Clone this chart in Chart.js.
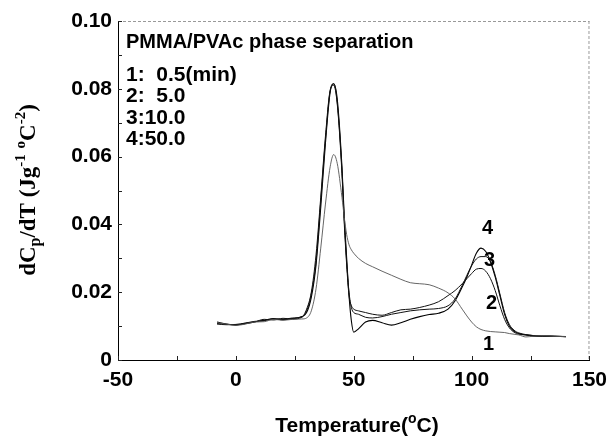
<!DOCTYPE html>
<html>
<head>
<meta charset="utf-8">
<script src="https://cdn.jsdelivr.net/npm/chart.js@4.4.1/dist/chart.umd.min.js"></script>
<style>
  html, body { margin: 0; padding: 0; background: #fff; }
  #wrap { width: 615px; height: 442px; }
</style>
</head>
<body>
<div id="wrap"><canvas id="dsc" width="615" height="442"></canvas></div>
<script>
// temperature grid (°C), shared by all four runs
const temps = [-8, -4, 0, 4, 8, 12, 16, 20, 24, 28, 30, 32, 34, 36, 38, 40, 41.5, 43, 45, 46, 47, 48, 49, 50,
  52, 55, 58, 62, 66, 70, 74, 78, 82, 86, 90, 93, 96, 98, 100, 102, 104, 106, 108, 110, 112, 114, 116, 118, 120,
  123, 126, 130, 135, 140];

// dCp/dT, one array per annealing time
const run1 = [0.0110, 0.0106, 0.0102, 0.0106, 0.0112, 0.0113, 0.0120, 0.0117, 0.0120, 0.0121, 0.0124, 0.0145,
  0.0210, 0.0330, 0.0460, 0.0570, 0.0606, 0.0580, 0.0480, 0.0420, 0.0370, 0.0340, 0.0325, 0.0315,
  0.0300, 0.0285, 0.0275, 0.0262, 0.0250, 0.0238, 0.0228, 0.0225, 0.0222, 0.0212, 0.0198, 0.0180, 0.0150,
  0.0130, 0.0112, 0.0098, 0.0090, 0.0086, 0.0084, 0.0083, 0.0082, 0.0081, 0.0078, 0.0076, 0.0074,
  0.0068, 0.0070, 0.0072, 0.0070, 0.0069];
const run2 = [0.0106, 0.0104, 0.0105, 0.0109, 0.0114, 0.0116, 0.0121, 0.0120, 0.0124, 0.0127, 0.0150, 0.0200,
  0.0310, 0.0480, 0.0660, 0.0795, 0.0810, 0.0755, 0.0550, 0.0400, 0.0280, 0.0190, 0.0160, 0.0150,
  0.0145, 0.0140, 0.0135, 0.0132, 0.0140, 0.0148, 0.0150, 0.0155, 0.0162, 0.0172, 0.0190, 0.0205, 0.0225,
  0.0240, 0.0255, 0.0268, 0.0270, 0.0262, 0.0240, 0.0205, 0.0160, 0.0120, 0.0095, 0.0082, 0.0076,
  0.0074, 0.0070, 0.0070, 0.0070, 0.0069];
const run3 = [0.0108, 0.0105, 0.0104, 0.0107, 0.0112, 0.0120, 0.0118, 0.0123, 0.0121, 0.0126, 0.0145, 0.0195,
  0.0290, 0.0470, 0.0650, 0.0795, 0.0815, 0.0760, 0.0560, 0.0410, 0.0290, 0.0200, 0.0155, 0.0140,
  0.0135, 0.0126, 0.0124, 0.0128, 0.0135, 0.0140, 0.0145, 0.0148, 0.0150, 0.0152, 0.0160, 0.0180, 0.0220,
  0.0250, 0.0278, 0.0298, 0.0305, 0.0305, 0.0290, 0.0250, 0.0195, 0.0140, 0.0105, 0.0088, 0.0080,
  0.0075, 0.0072, 0.0071, 0.0070, 0.0069];
const run4 = [0.0112, 0.0106, 0.0103, 0.0108, 0.0113, 0.0117, 0.0122, 0.0119, 0.0122, 0.0128, 0.0140, 0.0185,
  0.0280, 0.0450, 0.0640, 0.0790, 0.0815, 0.0770, 0.0570, 0.0420, 0.0300, 0.0190, 0.0115, 0.0082,
  0.0092, 0.0112, 0.0117, 0.0110, 0.0103, 0.0110, 0.0120, 0.0128, 0.0134, 0.0138, 0.0150, 0.0175, 0.0215,
  0.0245, 0.0280, 0.0315, 0.0330, 0.0320, 0.0290, 0.0245, 0.0190, 0.0135, 0.0100, 0.0085, 0.0078,
  0.0074, 0.0072, 0.0071, 0.0070, 0.0069];

const legendLines = ["1:  0.5(min)", "2:  5.0", "3:10.0", "4:50.0"];
const curveTags = ["1", "2", "3", "4"];
// where the curve numbers sit, in data units
const tagT = [107.2, 108.5, 107.6, 106.8];
const tagY = [0.0047, 0.0168, 0.0294, 0.0388];

const SANS = "'Liberation Sans', Arial, sans-serif";
const SERIF = "'Liberation Serif', 'Times New Roman', serif";

function pts(ys) {
  return temps.map((t, i) => ({ x: t, y: ys[i] }));
}

// draws inward ticks, frame, legend text and both axis titles
const decor = {
  id: "decor",
  afterDraw(chart) {
    const { ctx, chartArea: a, scales: { x, y } } = chart;
    ctx.save();

    // faint top / right frame
    ctx.strokeStyle = "#999";
    ctx.lineWidth = 1;
    ctx.setLineDash([3, 2]);
    ctx.beginPath();
    ctx.moveTo(a.left, a.top + 0.5);
    ctx.lineTo(a.right, a.top + 0.5);
    ctx.moveTo(a.right - 0.5, a.top);
    ctx.lineTo(a.right - 0.5, a.bottom);
    ctx.stroke();
    ctx.setLineDash([]);

    // inward ticks
    ctx.strokeStyle = "#222";
    ctx.beginPath();
    x.ticks.forEach(t => {
      const px = Math.round(x.getPixelForValue(t.value)) + 0.5;
      ctx.moveTo(px, a.bottom);
      ctx.lineTo(px, a.bottom - 4);
    });
    y.ticks.forEach(t => {
      const py = Math.round(y.getPixelForValue(t.value)) + 0.5;
      ctx.moveTo(a.left, py);
      ctx.lineTo(a.left + 4, py);
    });
    ctx.stroke();

    // text block inside the plot
    ctx.fillStyle = "#000";
    ctx.textAlign = "left";
    ctx.textBaseline = "middle";
    ctx.font = "bold 20px " + SANS;
    ctx.fillText("PMMA/PVAc phase separation", 126, 42);
    ctx.font = "bold 21px " + SANS;
    legendLines.forEach((s, i) => ctx.fillText(s, 126, 75 + i * 21.5));

    // curve numbers
    ctx.font = "bold 20px " + SANS;
    ctx.textAlign = "center";
    curveTags.forEach((s, i) => {
      ctx.fillText(s, x.getPixelForValue(tagT[i]), y.getPixelForValue(tagY[i]));
    });

    // x title with raised o
    ctx.textBaseline = "alphabetic";
    ctx.textAlign = "left";
    const xParts = [
      { t: "Temperature(", f: "bold 21px " + SANS, dy: 0 },
      { t: "o", f: "bold 14px " + SANS, dy: -9 },
      { t: "C)", f: "bold 21px " + SANS, dy: 0 }
    ];
    drawParts(ctx, xParts, 357, 432);

    // y title, rotated, serif with sub/superscripts
    const yParts = [
      { t: "dC", f: "bold 23px " + SERIF, dy: 0 },
      { t: "p", f: "bold 16px " + SERIF, dy: 5 },
      { t: "/dT (Jg", f: "bold 23px " + SERIF, dy: 0 },
      { t: "-1", f: "bold 15px " + SERIF, dy: -10 },
      { t: " ", f: "bold 23px " + SERIF, dy: 0 },
      { t: "o", f: "bold 15px " + SERIF, dy: -10 },
      { t: "C", f: "bold 23px " + SERIF, dy: 0 },
      { t: "-2", f: "bold 15px " + SERIF, dy: -10 },
      { t: ")", f: "bold 23px " + SERIF, dy: 0 }
    ];
    ctx.translate(35, 190);
    ctx.rotate(-Math.PI / 2);
    drawParts(ctx, yParts, 0, 0);

    ctx.restore();
  }
};

function drawParts(ctx, parts, cx, baseY) {
  let w = 0;
  parts.forEach(p => { ctx.font = p.f; w += ctx.measureText(p.t).width; });
  let px = cx - w / 2;
  parts.forEach(p => {
    ctx.font = p.f;
    ctx.fillText(p.t, px, baseY + p.dy);
    px += ctx.measureText(p.t).width;
  });
}

const lineStyle = (ys, color, width) => ({
  data: pts(ys),
  borderColor: color,
  borderWidth: width,
  pointRadius: 0,
  fill: false,
  cubicInterpolationMode: "monotone"
});

new Chart(document.getElementById("dsc"), {
  type: "line",
  data: {
    datasets: [
      lineStyle(run1, "#555", 0.9),
      lineStyle(run2, "#111", 1),
      lineStyle(run3, "#111", 1),
      lineStyle(run4, "#000", 1.1)
    ]
  },
  options: {
    responsive: false,
    animation: false,
    layout: { padding: { left: 0, right: 20, top: 21, bottom: 0 } },
    plugins: { legend: { display: false }, tooltip: { enabled: false } },
    scales: {
      x: {
        type: "linear",
        min: -50,
        max: 150,
        afterFit(s) { s.height = 82; },
        grid: { display: false, drawTicks: false },
        border: { display: true, color: "#000", width: 1 },
        ticks: {
          stepSize: 25,
          padding: 8,
          maxRotation: 0,
          autoSkip: false,
          color: "#000",
          font: { family: SANS, size: 21, weight: "bold" },
          callback: v => (v % 50 === 0 ? String(v) : "")
        }
      },
      y: {
        min: 0,
        max: 0.1,
        afterFit(s) { s.width = 118; },
        grid: { display: false, drawTicks: false },
        border: { display: true, color: "#000", width: 1 },
        ticks: {
          stepSize: 0.01,
          padding: 6,
          autoSkip: false,
          color: "#000",
          font: { family: SANS, size: 21, weight: "bold" },
          callback: v => {
            const k = Math.round(v * 100);
            if (k % 2 !== 0) return "";
            return k === 0 ? "0" : (k / 100).toFixed(2);
          }
        }
      }
    }
  },
  plugins: [decor]
});
</script>
</body>
</html>
